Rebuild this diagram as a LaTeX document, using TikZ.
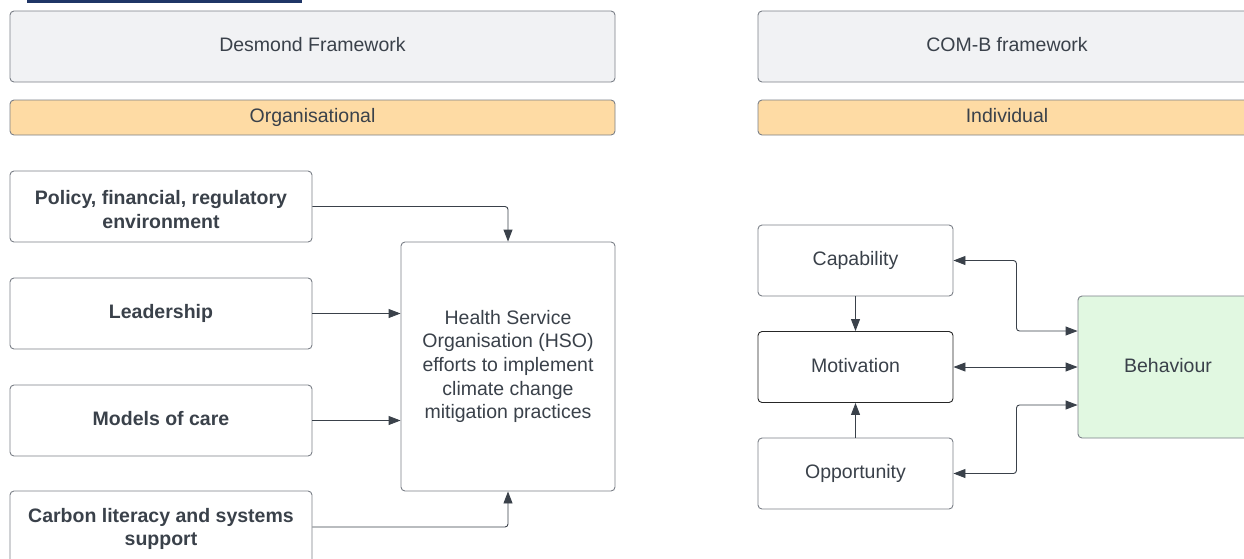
\documentclass[tikz,border=0pt]{standalone}
\usepackage{fontspec}
\setmainfont{Liberation Sans}
\usetikzlibrary{arrows.meta,calc}
\definecolor{txt}{HTML}{3A414A}
\definecolor{edge}{HTML}{7A7F87}
\definecolor{grayfill}{HTML}{F1F2F4}
\definecolor{orangefill}{HTML}{FEDBA4}
\definecolor{greenfill}{HTML}{E1F8E1}
\definecolor{navy}{HTML}{1F3566}
\tikzset{
  box/.style={draw=edge, line width=0.9pt, rounded corners=4pt, fill=white, inner sep=0pt,
    text=txt, align=center, font=\fontsize{19.5}{23.7}\selectfont},
  oneline/.style={text height=14.3pt, text depth=4.1pt},
  boldbox/.style={box, font=\fontsize{19.5}{23.7}\selectfont\bfseries},
  conn/.style={draw=txt, line width=0.9pt, rounded corners=3pt, -{Triangle[length=12pt,width=9pt]}},
  biconn/.style={draw=txt, line width=0.9pt, rounded corners=3pt, {Triangle[length=12pt,width=9pt]}-{Triangle[length=12pt,width=9pt]}},
}
\begin{document}
\begin{tikzpicture}[x=1pt,y=-1pt]
\useasboundingbox (0,0) rectangle (1244,558);
\clip (0,0) rectangle (1244,558);
\fill[navy] (27,-1) rectangle (302,3.3);
% headers
\node[box, oneline, fill=grayfill, minimum width=605, minimum height=71] (desm) at (312.5,46.5) {Desmond Framework};
\node[box, oneline, fill=orangefill, minimum width=605, minimum height=35] (org) at (312.5,117.5) {Organisational};
\node[box, oneline, fill=grayfill, minimum width=498, minimum height=71] (comb) at (1007,46.5) {COM-B framework};
\node[box, oneline, fill=orangefill, minimum width=498, minimum height=35] (ind) at (1007,117.5) {Individual};
% left boxes
\node[boldbox, minimum width=302, minimum height=71] (pol) at (161,206.5) {\rule{0pt}{20.3pt}Policy, financial, regulatory\\environment};
\node[boldbox, oneline, minimum width=302, minimum height=71] (lead) at (161,313.5) {Leadership};
\node[boldbox, oneline, minimum width=302, minimum height=71] (moc) at (161,420.5) {Models of care};
\node[boldbox, minimum width=302, minimum height=72] (carb) at (161,527) {\rule{0pt}{18.3pt}Carbon literacy and systems\\support};
\node[box, minimum width=214, minimum height=249] (hso) at (508,366.5) {Health Service\\Organisation (HSO)\\efforts to implement\\climate change\\mitigation practices};
% right boxes
\node[box, oneline, minimum width=195, minimum height=71] (cap) at (855.5,260.5) {Capability};
\node[box, oneline, draw=black!85, minimum width=195, minimum height=71] (mot) at (855.5,367) {Motivation};
\node[box, oneline, minimum width=195, minimum height=71] (opp) at (855.5,473.5) {Opportunity};
\node[box, oneline, fill=greenfill, minimum width=180, minimum height=142] (beh) at (1168,367) {Behaviour};
% connectors left
\draw[conn] (pol.east) -| (hso.north);
\draw[conn] (lead.east) -- (lead.east -| hso.west);
\draw[conn] (moc.east) -- (moc.east -| hso.west);
\draw[conn] (carb.east) -| (hso.south);
% connectors right
\draw[conn] (cap.south) -- (mot.north);
\draw[conn] (opp.north) -- (mot.south);
\draw[biconn] (cap.east) -- ++(63,0) |- ($(beh.west)+(0,-36)$);
\draw[biconn] (mot.east) -- (beh.west);
\draw[biconn] (opp.east) -- ++(63,0) |- ($(beh.west)+(0,38)$);
\end{tikzpicture}
\end{document}
